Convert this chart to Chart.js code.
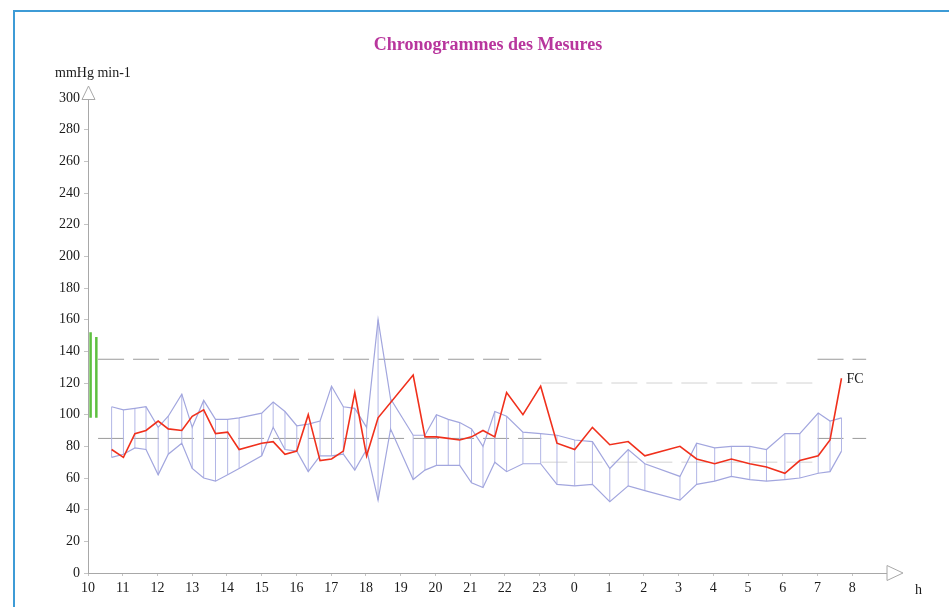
<!DOCTYPE html>
<html>
<head>
<meta charset="utf-8">
<title>Chronogrammes des Mesures</title>
<script src="https://cdn.jsdelivr.net/npm/chart.js@4.4.0/dist/chart.umd.min.js"></script>
<style>
  body { margin: 0; background: #fff; }
  #frame { position: absolute; left: 13px; top: 10px; width: 960px; height: 700px; border-left: 2px solid #3d9bd6; border-top: 2px solid #3d9bd6; }
  #c { position: absolute; left: 0; top: 0; }
</style>
</head>
<body>
<div id="frame"></div>
<canvas id="c" width="949" height="607"></canvas>
<script>
// measurement times in hours (values above 24 are the next morning)
const times = [10.68, 11.02, 11.35, 11.67, 12.02, 12.31, 12.70, 13.00, 13.33, 13.67, 14.02, 14.35,
    15.00, 15.33, 15.67, 16.01, 16.34, 16.68, 17.01, 17.35, 17.68, 18.02, 18.35, 18.71,
    19.36, 19.70, 20.03, 20.37, 20.70, 21.04, 21.37, 21.71, 22.05, 22.52, 23.03, 23.50,
    24.01, 24.52, 25.02, 25.55, 26.03, 27.04, 27.52, 28.04, 28.52, 29.05, 29.53, 30.06,
    30.49, 31.02, 31.36, 31.69]

// systolic / diastolic (mmHg)
const systolic = [105, 103, 104, 105, 92, 99, 113, 92, 109, 97, 97, 98,
    101, 108, 102, 93, 94, 96, 118, 105, 104, 92, 160, 110,
    87, 87, 100, 97, 95, 91, 80, 102, 99, 89, 88, 87,
    84, 83, 66, 78, 69, 61, 82, 79, 80, 80, 78, 88,
    88, 101, 96, 98]
const diastolic = [73, 75, 79, 78, 62, 75, 82, 66, 60, 58, 62, 66,
    74, 92, 78, 77, 64, 74, 74, 75, 65, 78, 46, 91,
    59, 65, 68, 68, 68, 57, 54, 70, 64, 69, 69, 56,
    55, 56, 45, 55, 52, 46, 56, 58, 61, 59, 58, 59,
    60, 63, 64, 77]

// heart rate (min-1)
const fcTimes = [10.68, 11.02, 11.35, 11.67, 12.02, 12.31, 12.70, 13.00, 13.33, 13.67, 14.02, 14.35,
    15.00, 15.33, 15.67, 16.01, 16.34, 16.68, 17.01, 17.35, 17.68, 18.02, 18.35,
    19.36, 19.70, 20.03, 20.37, 20.70, 21.04, 21.37, 21.71, 22.05, 22.52, 23.03, 23.50,
    24.01, 24.52, 25.02, 25.55, 26.03, 27.04, 27.52, 28.04, 28.52, 29.05, 29.53, 30.06,
    30.49, 31.02, 31.36, 31.69]
const fcValues = [78, 73, 88, 90, 96, 91, 90, 99, 103, 88, 89, 78,
    82, 83, 75, 77, 100, 71, 72, 77, 114, 74, 98,
    125, 86, 86, 85, 84, 86, 90, 86, 114, 100, 118, 82,
    78, 92, 81, 83, 74, 80, 72, 69, 72, 69, 67, 63,
    71, 74, 84, 123]

// clinic measurements (green bars)
const clinicTimes = [10.075, 10.24]
const clinicSys = [152, 149]
const clinicDia = [98, 98]

// reference limits
const dayLimits = [135, 85]
const nightLimits = [120, 70]
const dayStart = 10.29, nightStart = 23.05, nightEnd = 31.0, dayEnd = 32.4

const hourTicks = [10, 11, 12, 13, 14, 15, 16, 17, 18, 19, 20, 21, 22, 23, 24, 25, 26, 27, 28, 29, 30, 31, 32]

const serif = "'Liberation Serif', 'DejaVu Serif', serif"
const bandColor = 'rgb(162, 166, 222)'

// one vertical rung per measurement, broken by nulls
let rungs = []
times.forEach((t, i) => {
    rungs.push({ x: t, y: diastolic[i] }, { x: t, y: systolic[i] }, { x: t, y: null })
})

let clinic = []
clinicTimes.forEach((t, i) => {
    clinic.push({ x: t, y: clinicDia[i] }, { x: t, y: clinicSys[i] }, { x: t, y: null })
})

function limitLine(v, from, to, color) {
    return {
        data: [{ x: from, y: v }, { x: to, y: v }],
        borderColor: color, borderWidth: 1, borderDash: [26, 9], order: 5
    }
}

let datasets = [
    { data: fcTimes.map((t, i) => ({ x: t, y: fcValues[i] })), borderColor: '#f0301c', borderWidth: 1.6, order: 0 },
    { data: times.map((t, i) => ({ x: t, y: systolic[i] })), borderColor: bandColor, borderWidth: 1.2, order: 2 },
    { data: times.map((t, i) => ({ x: t, y: diastolic[i] })), borderColor: bandColor, borderWidth: 1.2, order: 2 },
    { data: rungs, borderColor: 'rgb(178, 182, 230)', borderWidth: 1, spanGaps: false, order: 3 },
    { data: clinic, borderColor: '#5ec040', borderWidth: 2.5, spanGaps: false, order: 1 }
]
dayLimits.forEach(v => {
    datasets.push(limitLine(v, dayStart, nightStart, '#9a9a9a'))
    datasets.push(limitLine(v, nightEnd, dayEnd, '#9a9a9a'))
})
nightLimits.forEach(v => datasets.push(limitLine(v, nightStart, nightEnd, '#d2d2d2')))

// title, unit labels, axis arrows
const extras = {
    id: 'extras',
    afterDraw(chart) {
        const ctx = chart.ctx
        const a = chart.chartArea
        const xs = chart.scales.x, ys = chart.scales.y
        ctx.save()
        ctx.strokeStyle = '#a8a8a8'
        ctx.fillStyle = '#fff'
        ctx.lineWidth = 1
        ctx.beginPath()
        ctx.moveTo(a.left + 0.5, a.top - 12)
        ctx.lineTo(a.left - 6, a.top + 1.5)
        ctx.lineTo(a.left + 7, a.top + 1.5)
        ctx.closePath()
        ctx.fill(); ctx.stroke()
        ctx.beginPath()
        ctx.moveTo(a.right + 16, a.bottom)
        ctx.lineTo(a.right, a.bottom - 7.5)
        ctx.lineTo(a.right, a.bottom + 7.5)
        ctx.closePath()
        ctx.fill(); ctx.stroke()

        ctx.fillStyle = '#b8369d'
        ctx.font = 'bold 18px ' + serif
        ctx.textAlign = 'center'
        ctx.textBaseline = 'middle'
        ctx.fillText('Chronogrammes des Mesures', 488, 45)

        ctx.fillStyle = '#1a1a1a'
        ctx.font = '14px ' + serif
        ctx.textAlign = 'left'
        ctx.fillText('mmHg min-1', 55, 73)
        ctx.fillText('h', 915, 590)
        const last = fcTimes.length - 1
        ctx.fillText('FC', xs.getPixelForValue(fcTimes[last]) + 5, ys.getPixelForValue(fcValues[last]) + 1)
        ctx.restore()
    }
}

new Chart(document.getElementById('c'), {
    type: 'line',
    data: { datasets: datasets },
    options: {
        responsive: false,
        animation: false,
        layout: { padding: { left: 0, right: 62, top: 98, bottom: 0 } },
        elements: { point: { radius: 0 }, line: { tension: 0 } },
        plugins: { legend: { display: false }, tooltip: { enabled: false } },
        scales: {
            x: {
                type: 'linear', min: 10, max: 33,
                afterFit: s => { s.height = 34 },
                afterBuildTicks: s => { s.ticks = hourTicks.map(v => ({ value: v })) },
                ticks: { autoSkip: false, maxRotation: 0, padding: 4, color: '#1a1a1a', font: { family: serif, size: 14 },
                    callback: v => String(v % 24) },
                grid: { drawOnChartArea: false, tickLength: 3, color: '#c4c4c4' },
                border: { color: '#a8a8a8' }
            },
            y: {
                min: 0, max: 300,
                afterFit: s => { s.width = 88 },
                ticks: { stepSize: 20, padding: 4, color: '#1a1a1a', font: { family: serif, size: 14 } },
                grid: { drawOnChartArea: false, tickLength: 4, color: '#c4c4c4' },
                border: { color: '#a8a8a8' }
            }
        }
    },
    plugins: [extras]
})
</script>
</body>
</html>
